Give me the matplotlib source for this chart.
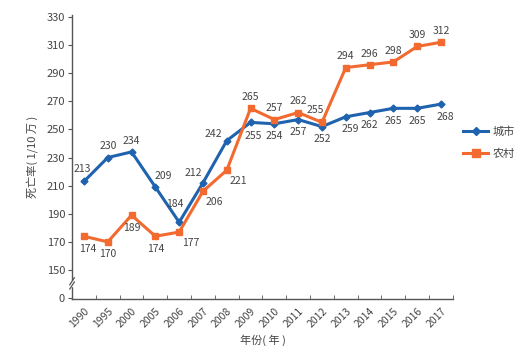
import matplotlib
matplotlib.use('Agg')
import matplotlib.pyplot as plt
import numpy as np

plt.rcParams['font.family'] = ['Noto Sans CJK SC', 'DejaVu Sans']

years = ['1990', '1995', '2000', '2005', '2006', '2007', '2008', '2009', '2010',
         '2011', '2012', '2013', '2014', '2015', '2016', '2017']
city = [213, 230, 234, 209, 184, 212, 242, 255, 254, 257, 252, 259, 262, 265, 265, 268]
rural = [174, 170, 189, 174, 177, 206, 221, 265, 257, 262, 255, 294, 296, 298, 309, 312]
ytick_vals = [150, 170, 190, 210, 230, 250, 270, 290, 310, 330]

# label offsets in points (dx, dy)
city_off = [(-1, 9), (0, 8), (0, 8), (6, 8), (-3, 13), (-7, 7), (-10, 5), (2, -10), (0, -9),
            (0, -9), (0, -9), (3, -9), (0, -9), (0, -9), (0, -9), (3, -9)]
rural_off = [(3, -9), (0, -9), (0, -9), (0, -9), (8, -8), (8, -8), (8, -8), (0, 8), (0, 8),
             (0, 8), (-5, 9), (0, 8), (0, 8), (0, 8), (0, 8), (0, 8)]

blue = '#1f62ae'
orange = '#f26a30'
grey = '#555555'
txt = '#444444'

ZERO_POS = 130  # where the broken axis puts 0

fig = plt.figure(figsize=(5.26, 3.53), dpi=100)
ax = fig.add_axes([0.137, 0.153, 0.724, 0.805])

x = np.arange(len(years))
ax.plot(x, city, color=blue, lw=2.2, marker='D', ms=3.5, label='城市', zorder=3)
ax.plot(x, rural, color=orange, lw=2.2, marker='s', ms=5, label='农村', zorder=3)

for i in range(len(years)):
    ax.annotate(str(city[i]), (x[i], city[i]), xytext=city_off[i], textcoords='offset points',
                ha='center', va='center', fontsize=7.5, color=txt)
    ax.annotate(str(rural[i]), (x[i], rural[i]), xytext=rural_off[i], textcoords='offset points',
                ha='center', va='center', fontsize=7.5, color=txt)

ax.set_xlim(-0.5, len(years) - 0.5)
ax.set_ylim(129.4, 331.5)

ax.set_yticks([ZERO_POS] + ytick_vals)
ax.set_yticklabels(['0'] + [str(v) for v in ytick_vals])
ax.set_xticks(x)
ax.set_xticklabels(years, rotation=45, ha='right', rotation_mode='anchor')
ax.set_xticks(np.arange(len(years) + 1) - 0.5, minor=True)
ax.tick_params(axis='x', which='major', length=0, labelsize=7.5, colors=txt, pad=5)
ax.tick_params(axis='x', which='minor', direction='in', length=3, color=grey)
ax.tick_params(axis='y', length=3, direction='out', labelsize=8, colors=txt, color=grey, pad=2)

for s in ['top', 'right']:
    ax.spines[s].set_visible(False)
for s in ['left', 'bottom']:
    ax.spines[s].set_color(grey)
    ax.spines[s].set_linewidth(1.0)

# axis break marks on the left spine
tr = ax.get_yaxis_transform()
ax.plot([0, 0], [139.5, 141.5], transform=tr, color='white', lw=2.5, clip_on=False, zorder=5)
ax.plot([-0.006, 0.006], [136.5, 141.5], transform=tr, color=grey, lw=0.9, clip_on=False, zorder=6)
ax.plot([-0.006, 0.006], [139.5, 144.5], transform=tr, color=grey, lw=0.9, clip_on=False, zorder=6)

ax.set_ylabel('死亡率( 1/10 万 )', fontsize=8, color=txt, labelpad=6)
ax.set_xlabel('年份( 年 )', fontsize=8, color=txt, labelpad=4)

ax.legend(loc='center left', bbox_to_anchor=(1.0, 0.55), frameon=False, fontsize=8,
          labelcolor=txt, handlelength=2.3, handletextpad=0.4, labelspacing=1.0,
          markerscale=1.2)

fig.savefig('out.png', dpi=100)
